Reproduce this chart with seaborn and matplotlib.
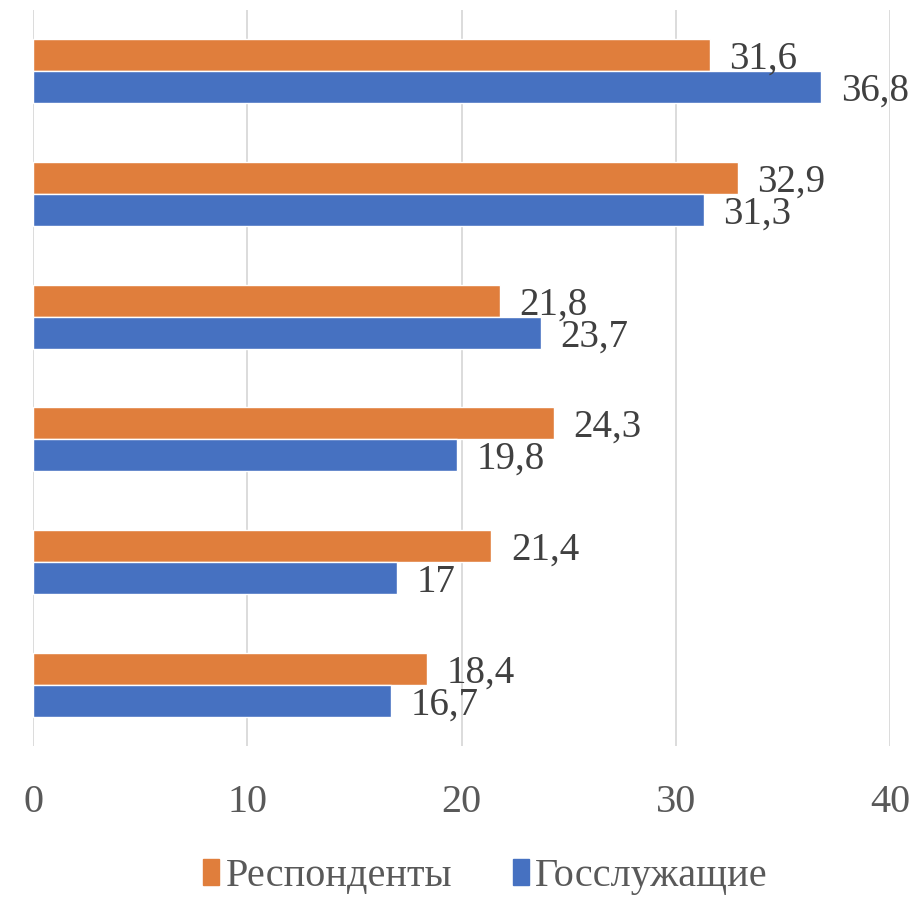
import numpy as np
import pandas as pd
import matplotlib.pyplot as plt
import seaborn as sns
from matplotlib.patches import Patch

# values, top group first
groups = ["1", "2", "3", "4", "5", "6"]
respondents = [31.6, 32.9, 21.8, 24.3, 21.4, 18.4]
civil_servants = [36.8, 31.3, 23.7, 19.8, 17.0, 16.7]
series_names = ["Респонденты", "Госслужащие"]
colors = ["#E07E3C", "#4671C1"]
x_ticks = [0, 10, 20, 30, 40]

df = pd.DataFrame({
    "group": groups * 2,
    "value": respondents + civil_servants,
    "series": [series_names[0]] * len(groups) + [series_names[1]] * len(groups),
})

sns.set_theme(style="white")
plt.rcParams["font.family"] = ["Liberation Serif", "DejaVu Serif"]

fig = plt.figure(figsize=(9.21, 9.01), dpi=100)
ax = fig.add_axes([33 / 921, 1 - 746 / 901, (890 - 33) / 921, (746 - 10) / 901])

sns.barplot(data=df, y="group", x="value", hue="series", hue_order=series_names,
            palette=colors, orient="h", width=0.52, gap=0, saturation=1,
            legend=False, ax=ax)

# value labels, Excel style with decimal comma, sitting a touch below bar centre
for container in ax.containers:
    labels = [f"{v:g}".replace(".", ",") for v in container.datavalues]
    anns = ax.bar_label(container, labels=labels, padding=14, fontsize=28, color="#404040")
    for a in anns:
        a.xyann = (14, -3)

ax.set_xlim(0, 40)
ax.set_xticks(x_ticks)
ax.set_xticklabels([str(t) for t in x_ticks], fontsize=29, color="#595959")
ax.tick_params(axis="x", length=0, pad=27)
ax.set_yticks([])
ax.set_xlabel("")
ax.set_ylabel("")
ax.xaxis.grid(True, color="#d9d9d9", linewidth=1.3)
ax.set_axisbelow(True)
for side in ax.spines.values():
    side.set_visible(False)

handles = [Patch(facecolor=c, edgecolor=c) for c in colors]
fig.legend(handles, series_names, loc="center", bbox_to_anchor=(0.527, 0.027),
           ncol=2, frameon=False, fontsize=29, handlelength=0.4, handleheight=0.6,
           handletextpad=0.15, columnspacing=1.5, labelcolor="#595959")

fig.savefig("out.png", dpi=100)
